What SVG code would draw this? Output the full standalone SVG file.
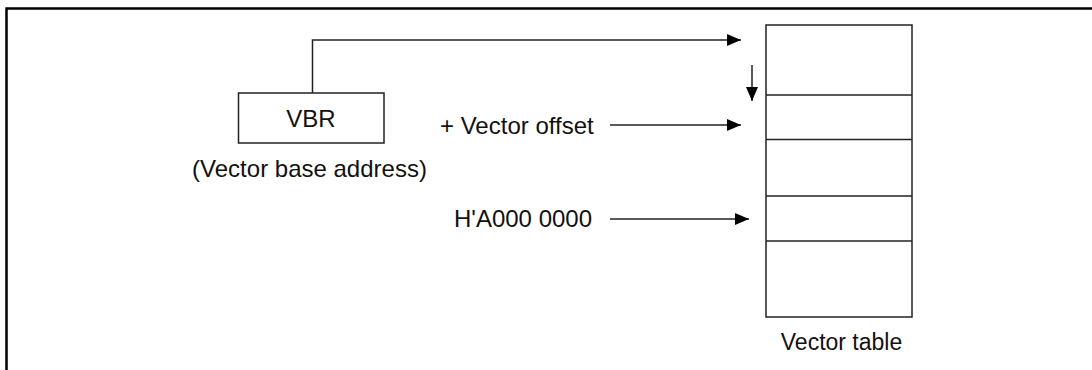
<svg xmlns="http://www.w3.org/2000/svg" width="1092" height="370" viewBox="0 0 1092 370">
<style>
text{font-family:"Liberation Sans",Arial,sans-serif;font-size:24px;fill:#111}
.small{font-size:23px}
.box{fill:#fff;stroke:#222;stroke-width:1.5}
.ln{fill:none;stroke:#222;stroke-width:1.5}
.frame{fill:none;stroke:#000;stroke-width:2.5}
</style>
<defs>
<marker id="ah" viewBox="0 0 14 12" refX="14" refY="6" markerWidth="14" markerHeight="12" markerUnits="userSpaceOnUse" orient="auto">
<path d="M0,0 L14,6 L0,12 Z" fill="#000"/>
</marker>
</defs>
<rect width="1092" height="370" fill="#fff"/>
<path class="frame" d="M6.5,370 V8.5 H1092"/>
<g id="vbr">
<rect class="box" x="238.5" y="93" width="145.5" height="50"/>
<text x="311" y="126.5" text-anchor="middle">VBR</text>
</g>
<g id="vbr-label">
<text x="309.5" y="176.5" text-anchor="middle">(Vector base address)</text>
</g>
<g id="offset-label">
<text x="440" y="133.5">+ Vector offset</text>
</g>
<g id="addr-label">
<text x="454" y="227">H'A000 0000</text>
</g>
<g id="vector-table">
<rect class="box" x="766" y="25" width="146" height="292"/>
<line class="ln" x1="766" y1="95" x2="912" y2="95"/>
<line class="ln" x1="766" y1="139.5" x2="912" y2="139.5"/>
<line class="ln" x1="766" y1="196" x2="912" y2="196"/>
<line class="ln" x1="766" y1="241" x2="912" y2="241"/>
<text class="small" x="841.5" y="349.5" text-anchor="middle">Vector table</text>
</g>
<g id="connectors">
<path class="ln" d="M312.5,93 V40 H741" marker-end="url(#ah)"/>
<path class="ln" d="M752,65 V101" marker-end="url(#ah)"/>
<path class="ln" d="M610,125 H741" marker-end="url(#ah)"/>
<path class="ln" d="M610,219 H749" marker-end="url(#ah)"/>
</g>
</svg>
